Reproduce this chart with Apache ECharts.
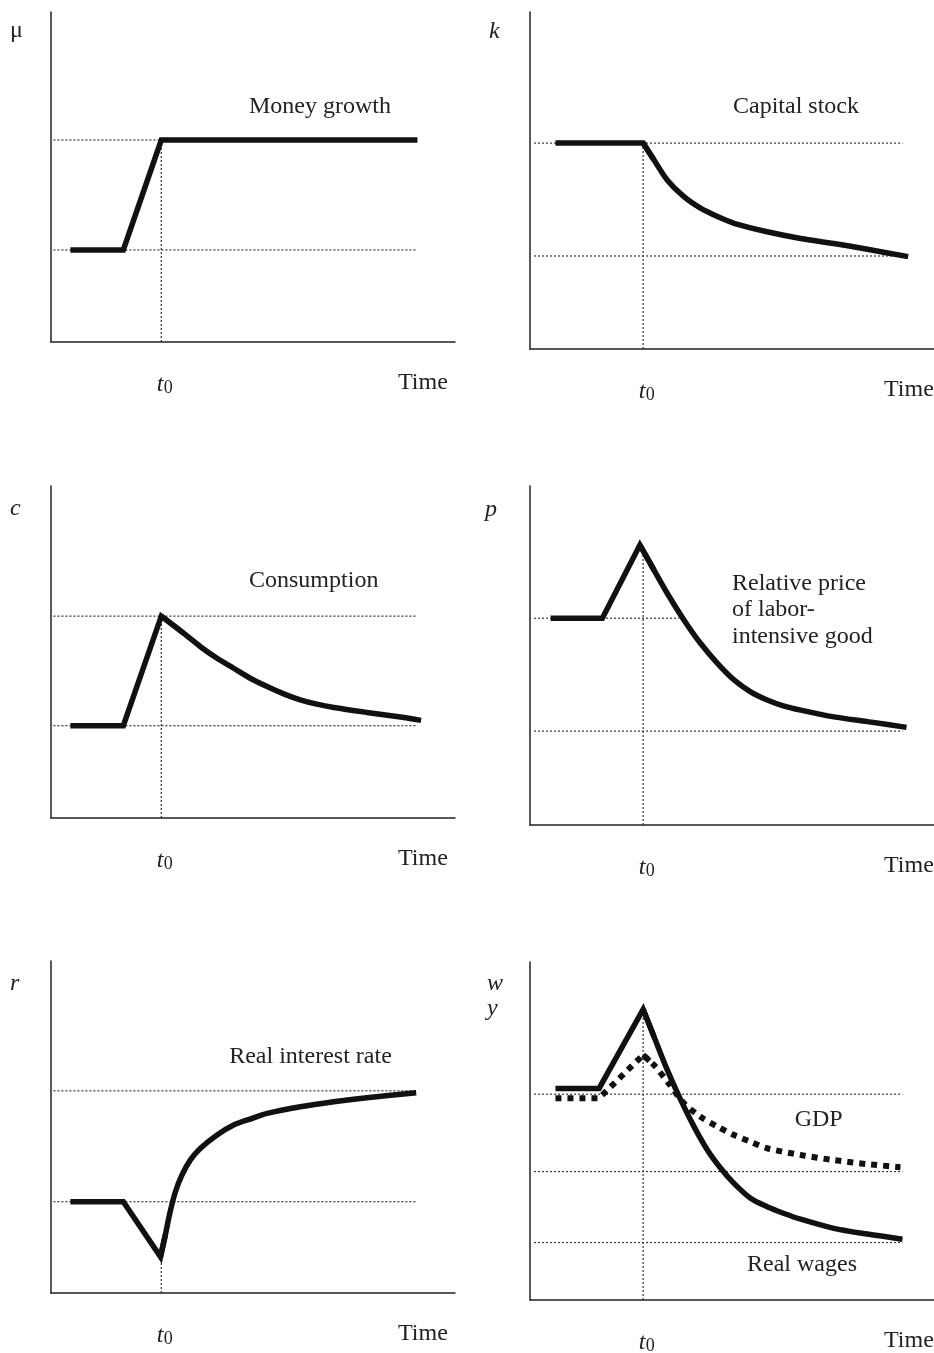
<!DOCTYPE html>
<html><head><meta charset="utf-8">
<script src="https://cdn.jsdelivr.net/npm/echarts@6/dist/echarts.min.js"></script>
<style>html,body{margin:0;padding:0;background:#fff}#c{width:934px;height:1353px}</style>
</head><body><div id="c"></div>
<script>
// ---- Data (x: time units 0-100, y: level units 0-100) ----
const moneyGrowth = [[4.8,27.9],[17.9,27.9],[27.3,61.2],[90.7,61.2]];
const capitalStock = [[6.3,61.1],[28.0,61.1],[30.7,56.1],[34.0,50.1],[38.1,45.2],[42.2,41.8],[46.4,39.3],[50.5,37.3],[58.7,34.8],[67.0,32.8],[75.2,31.3],[83.5,29.6],[93.6,27.4]];
const consumption = [[4.8,27.8],[17.9,27.8],[27.3,60.8],[32.8,55.7],[37.0,51.6],[41.1,48.1],[45.2,45.1],[49.3,42.1],[53.5,39.6],[57.6,37.4],[61.7,35.6],[65.8,34.3],[70.0,33.3],[78.2,31.8],[86.5,30.4],[91.6,29.4]];
const relativePrice = [[5.1,61.0],[17.9,61.0],[27.2,82.6],[30.7,75.2],[34.0,68.3],[38.1,60.5],[42.2,53.6],[46.4,47.7],[50.5,42.8],[54.6,39.3],[58.7,36.9],[62.9,35.1],[67.0,33.9],[75.2,31.9],[83.5,30.5],[93.2,28.8]];
const realInterest = [[4.8,27.5],[17.9,27.5],[27.1,10.9],[28.3,17.5],[29.5,24.5],[30.8,30.5],[32.4,35.5],[34.5,40.1],[37.0,43.6],[41.1,47.6],[45.2,50.6],[49.3,52.4],[53.5,54.1],[61.7,56.1],[70.0,57.6],[78.2,58.8],[90.4,60.3]];
const realWages = [[6.3,62.6],[17.1,62.6],[28.0,86.0],[30.7,77.9],[34.0,68.0],[37.3,59.2],[40.6,51.3],[43.9,44.4],[47.2,39.0],[50.5,34.5],[54.6,30.1],[58.7,27.6],[62.9,25.6],[67.0,23.9],[75.2,21.2],[83.5,19.5],[92.2,18.0]];
const gdp = [[6.3,59.7],[17.1,59.7],[28.0,72.5],[30.7,69.5],[34.0,64.6],[38.1,58.2],[42.2,54.2],[46.4,51.3],[50.5,48.8],[54.6,46.8],[58.7,44.9],[67.0,42.9],[75.2,41.4],[83.5,40.2],[91.7,39.3]];

// Dotted reference lines (segments)
const moneyGuides = [[[0.6,61.2],[90.4,61.2]],[[0.6,27.9],[90.4,27.9]],[[27.3,0],[27.3,61.2]]];
const capitalGuides = [[[1.0,61.1],[92.2,61.1]],[[1.0,27.6],[92.2,27.6]],[[28.0,0],[28.0,61.1]]];
const consumptionGuides = [[[0.6,60.8],[90.4,60.8]],[[0.6,27.8],[90.4,27.8]],[[27.3,0],[27.3,60.8]]];
const priceGuides = [[[1.0,61.0],[36.9,61.0]],[[1.0,27.7],[92.2,27.7]],[[28.0,0],[28.0,80.5]]];
const interestGuides = [[[0.6,60.9],[90.4,60.9]],[[0.6,27.5],[90.4,27.5]],[[27.3,0],[27.3,10.9]]];
const wageGuides = [[[1.0,60.9],[92.2,60.9]],[[1.0,38.0],[92.2,38.0]],[[1.0,17.0],[92.2,17.0]],[[28.0,0],[28.0,84.0]]];

// Text
const axisSymbols = ['μ','k','c','p','r','w','y'];
const panelTitles = ['Money growth','Capital stock','Consumption','Relative price','of labor-','intensive good','Real interest rate','GDP','Real wages'];
const timeLabel = 'Time';

// ---- Chart ----
const chart = echarts.init(document.getElementById('c'), null, {renderer:'canvas'});
const grids = [
  {left:51, top:12, width:404, height:330},
  {left:530, top:12, width:404, height:337},
  {left:51, top:486, width:404, height:332},
  {left:530, top:486, width:404, height:339},
  {left:51, top:961, width:404, height:332},
  {left:530, top:962, width:404, height:338}
];
const axLine = {show:true, onZero:false, lineStyle:{color:'#222', width:1.5}};
const xAxes = grids.map((g,i)=>({gridIndex:i,type:'value',min:0,max:100,axisLine:axLine,axisTick:{show:false},axisLabel:{show:false},splitLine:{show:false}}));
const yAxes = grids.map((g,i)=>({gridIndex:i,type:'value',min:0,max:100,axisLine:axLine,axisTick:{show:false},axisLabel:{show:false},splitLine:{show:false}}));

const series = [];
function guides(i, segs){
  segs.forEach(s=>series.push({type:'line',xAxisIndex:i,yAxisIndex:i,data:s,symbol:'none',silent:true,z:1,
    lineStyle:{color:'#333',width:1.2,type:[2,2]}}));
}
function path(i, data, kink, dashed){
  const ls = {color:'#111', width: dashed?6:5.5, join:'miter', cap:'butt'};
  if(dashed){ ls.type=[6,6]; }
  const linear = kink==null ? data : data.slice(0, kink+2);
  series.push({type:'line',xAxisIndex:i,yAxisIndex:i,data:linear,symbol:'none',silent:true,z:3,lineStyle:Object.assign({},ls)});
  if(kink!=null){
    series.push({type:'line',xAxisIndex:i,yAxisIndex:i,data:data.slice(kink),symbol:'none',silent:true,z:3,
      smooth:0.3,lineStyle:Object.assign({},ls)});
  }
}
guides(0, moneyGuides); path(0, moneyGrowth, null);
guides(1, capitalGuides); path(1, capitalStock, 1);
guides(2, consumptionGuides); path(2, consumption, 2);
guides(3, priceGuides); path(3, relativePrice, 2);
guides(4, interestGuides); path(4, realInterest, 2);
guides(5, wageGuides); path(5, gdp, 2, true); path(5, realWages, 2);

const FF = '"Liberation Serif","Times New Roman",serif';
const graphics = [];
function txt(x, base, text, size, opts){
  opts = opts || {};
  graphics.push({type:'text', x:x, y: base - 0.34*size, silent:true, style:{
    text:text, font:(opts.italic?'italic ':'')+size+'px '+FF, fill:'#222',
    textAlign: opts.align||'left', textVerticalAlign:'middle'}});
}
const F = 24;
// axis symbols
txt(10, 39, axisSymbols[0], F);
txt(489, 40, axisSymbols[1], F, {italic:true});
txt(10, 517, axisSymbols[2], F, {italic:true});
txt(485, 518, axisSymbols[3], F, {italic:true});
txt(10, 992, axisSymbols[4], F, {italic:true});
txt(487, 992, axisSymbols[5], F, {italic:true});
txt(487, 1016.7, axisSymbols[6], F, {italic:true});
// panel titles
txt(320, 115, panelTitles[0], F, {align:'center'});
txt(796, 115, panelTitles[1], F, {align:'center'});
txt(313.7, 589, panelTitles[2], F, {align:'center'});
txt(732, 591.7, panelTitles[3], F);
txt(732, 618.3, panelTitles[4], F);
txt(732, 645, panelTitles[5], F);
txt(310.5, 1065, panelTitles[6], F, {align:'center'});
txt(818.7, 1128, panelTitles[7], F, {align:'center'});
txt(802, 1273, panelTitles[8], F, {align:'center'});
// t0 and Time per panel
grids.forEach((g,i)=>{
  const axisY = g.top + g.height;
  const right = g.left > 300;
  const tx = right ? 638.7 : 156.7;
  txt(tx, axisY + 50.5, 't', F, {italic:true});
  txt(tx + 7, axisY + 52.5, '0', 18);
  txt(right ? 884 : 398, axisY + 49, timeLabel, F);
});

chart.setOption({
  animation:false,
  backgroundColor:'#fff',
  grid:grids,
  xAxis:xAxes,
  yAxis:yAxes,
  series:series,
  graphic:graphics
});
</script></body></html>
